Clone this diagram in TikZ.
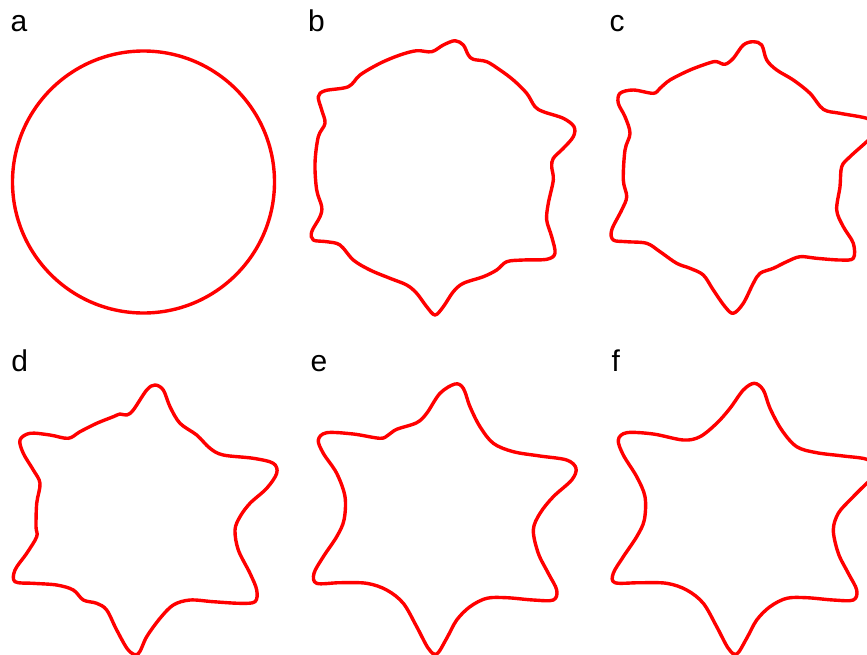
\documentclass[tikz,border=0pt]{standalone}
\usepackage{fontspec}
\setmainfont{Liberation Sans}
\begin{document}
\begin{tikzpicture}[x=1pt,y=-1pt,
  curve/.style={draw=red,line width=3.4pt,line join=round},
  lbl/.style={anchor=base west,inner sep=0pt,font=\fontsize{30}{30}\selectfont}]
\useasboundingbox (0,0) rectangle (867,654);
\clip (0,0) rectangle (867,654);
% labels
\node[lbl] (la) at (10.5,31.7) {a};
\node[lbl] (lb) at (308,31.7) {b};
\node[lbl] (lc) at (609.5,31.7) {c};
\node[lbl] (ld) at (11.3,371.7) {d};
\node[lbl] (le) at (310.5,371.7) {e};
\node[lbl] (lf) at (611.3,371.7) {f};
% a
\draw[curve] (143.5,182) circle[radius=131];
% b
\draw[curve] plot[smooth cycle,tension=0.55] coordinates {
(455,40.7) (463.3,45) (468.3,55) (473.3,59.3) (486.7,61.7) (500,70) (513.3,80) (526.7,93.3)
(535,106.7) (543.3,111.7) (563.3,118.3) (574,126.7) (573.3,136.7) (563.3,148.3) (553.3,158.3)
(551.7,166.7) (553.3,180) (548.3,203.3) (546.7,220) (551.7,236.7) (555,253.3) (546.7,259.3)
(523.3,260) (506.7,261.7) (496.7,270) (483.3,276.7) (463.3,283.3) (453.3,291.7) (443.3,306.7)
(435,315) (426.7,306.7) (416.7,293.3) (406.7,285) (390,278.3) (370,270) (353.3,260) (340,245)
(326.7,241.7) (313.3,240) (311.7,231.7) (320,216.7) (321.7,206.7) (316.7,190) (315,163.3)
(318.3,136.7) (325,123.3) (321.7,110) (318.3,96.7) (325,90.7) (348.3,86.7) (360,75) (380,63.3)
(400,55) (416.7,50.7) (431.7,51.7) (443.3,45)};
% c
\draw[curve] plot[smooth cycle,tension=0.55] coordinates {
(753.3,41.7) (761.7,45) (766.7,60) (776.7,70) (793.3,80) (810,93.3) (823.3,109.3) (840,113.3)
(866.7,118.3) (876,125) (875,133) (866.7,141.7) (850,156.7) (841.7,166.7) (840,186.7) (836.7,210)
(843.3,226.7) (853.3,243.3) (853.3,258.3) (840,260) (816.7,258.3) (800,256.7) (786.7,261.7)
(773.3,268.3) (760,273.3) (753.3,283.3) (743.3,303.3) (733.3,313.3) (725,306.7) (713.3,290)
(703.3,275) (690,268.3) (676.7,263.3) (660,251.7) (646.7,243.3) (626.7,241.7) (613.3,240)
(611.7,230) (621.7,210) (626.7,196.7) (623.3,180) (625,150) (630,133.3) (625,116.7) (618.3,103.3)
(620,93.3) (633.3,90) (653.3,93.3) (660,88.3) (670,80) (690,70) (710,62.7) (716.7,61.7)
(725,64.3) (733.3,58.3) (743.3,45)};
% d
\draw[curve] plot[smooth cycle,tension=0.55] coordinates {
(155,385) (163.3,390) (170,406.7) (180,423.3) (196.7,435) (210,448.3) (223.3,455) (253.3,458.3)
(273.3,463.3) (276.7,473.3) (266.7,488.3) (250,503.3) (240,516.7) (235,530) (238.3,550) (250,573.3)
(256.7,590) (255,601.7) (240,603.3) (213.3,601.7) (190,600) (173.3,605) (160,618.3) (146.7,636.7)
(138,654) (128.3,650) (116.7,630) (106.7,610) (96.7,603.3) (83.3,600) (73.3,590) (56.7,585)
(33.3,583.3) (15,581.7) (15,570) (26.7,553.3) (36.7,536.7) (36,526.7) (36.7,503.3) (40,483.3)
(33.3,470) (23.3,453.3) (20,440) (30,433.3) (50,435) (68.3,438.3) (80,431.7) (96.7,423.3)
(113.3,416.7) (120,414) (126.7,415) (133.3,410) (146.7,390)};
% e
\draw[curve] plot[smooth cycle,tension=0.55] coordinates {
(455,384) (463.3,388.3) (470,406.7) (480,426.7) (493.3,443.3) (513.3,451.7) (540,456) (566.7,460)
(576,468.3) (571.7,480) (553.3,496.7) (540,513.3) (533.3,530) (538.3,553.3) (548.3,573.3)
(556.7,590) (553.3,600) (533.3,600) (506.7,597.7) (486.7,598.3) (470,606.7) (456.7,620)
(446.7,638.3) (436.7,654) (428.3,648.3) (416.7,626.7) (403.3,603.3) (386.7,590) (366.7,583.3)
(340,582.7) (316.7,583.3) (314,573.3) (323.3,556.7) (336.7,536.7) (344,520) (345,496.7)
(336.7,473.3) (323.3,453.3) (318.3,440) (326.7,432.7) (353.3,434) (380,438.3) (388.3,435)
(396.7,429.3) (416.7,422.7) (426.7,413.3) (440,393.3)};
% f
\draw[curve] plot[smooth cycle,tension=0.55] coordinates {
(754.3,383.3) (763.3,390) (770,408.3) (781.7,430) (796.7,446.7) (816.7,452.7) (843.3,456)
(866.7,459.3) (876,468) (871,480) (866.7,483.3) (850,500) (838.3,513.3) (833.3,530) (838.3,553.3)
(848.3,573.3) (856.7,590) (853.3,600) (833.3,600) (806.7,597.7) (786.7,598.3) (770,606.7)
(756.7,620) (746.7,638.3) (736.7,654) (728.3,648.3) (716.7,626.7) (703.3,603.3) (686.7,590)
(666.7,583.3) (640,582.7) (615,582.7) (613.3,573.3) (623.3,556.7) (636.7,536.7) (644.3,520)
(645,496.7) (636.7,476.7) (623.3,455) (618.3,440) (626.7,432.7) (653.3,434) (683.3,440)
(700,436.7) (716.7,423.3) (730,408.3) (743.3,390)};
\end{tikzpicture}
\end{document}
